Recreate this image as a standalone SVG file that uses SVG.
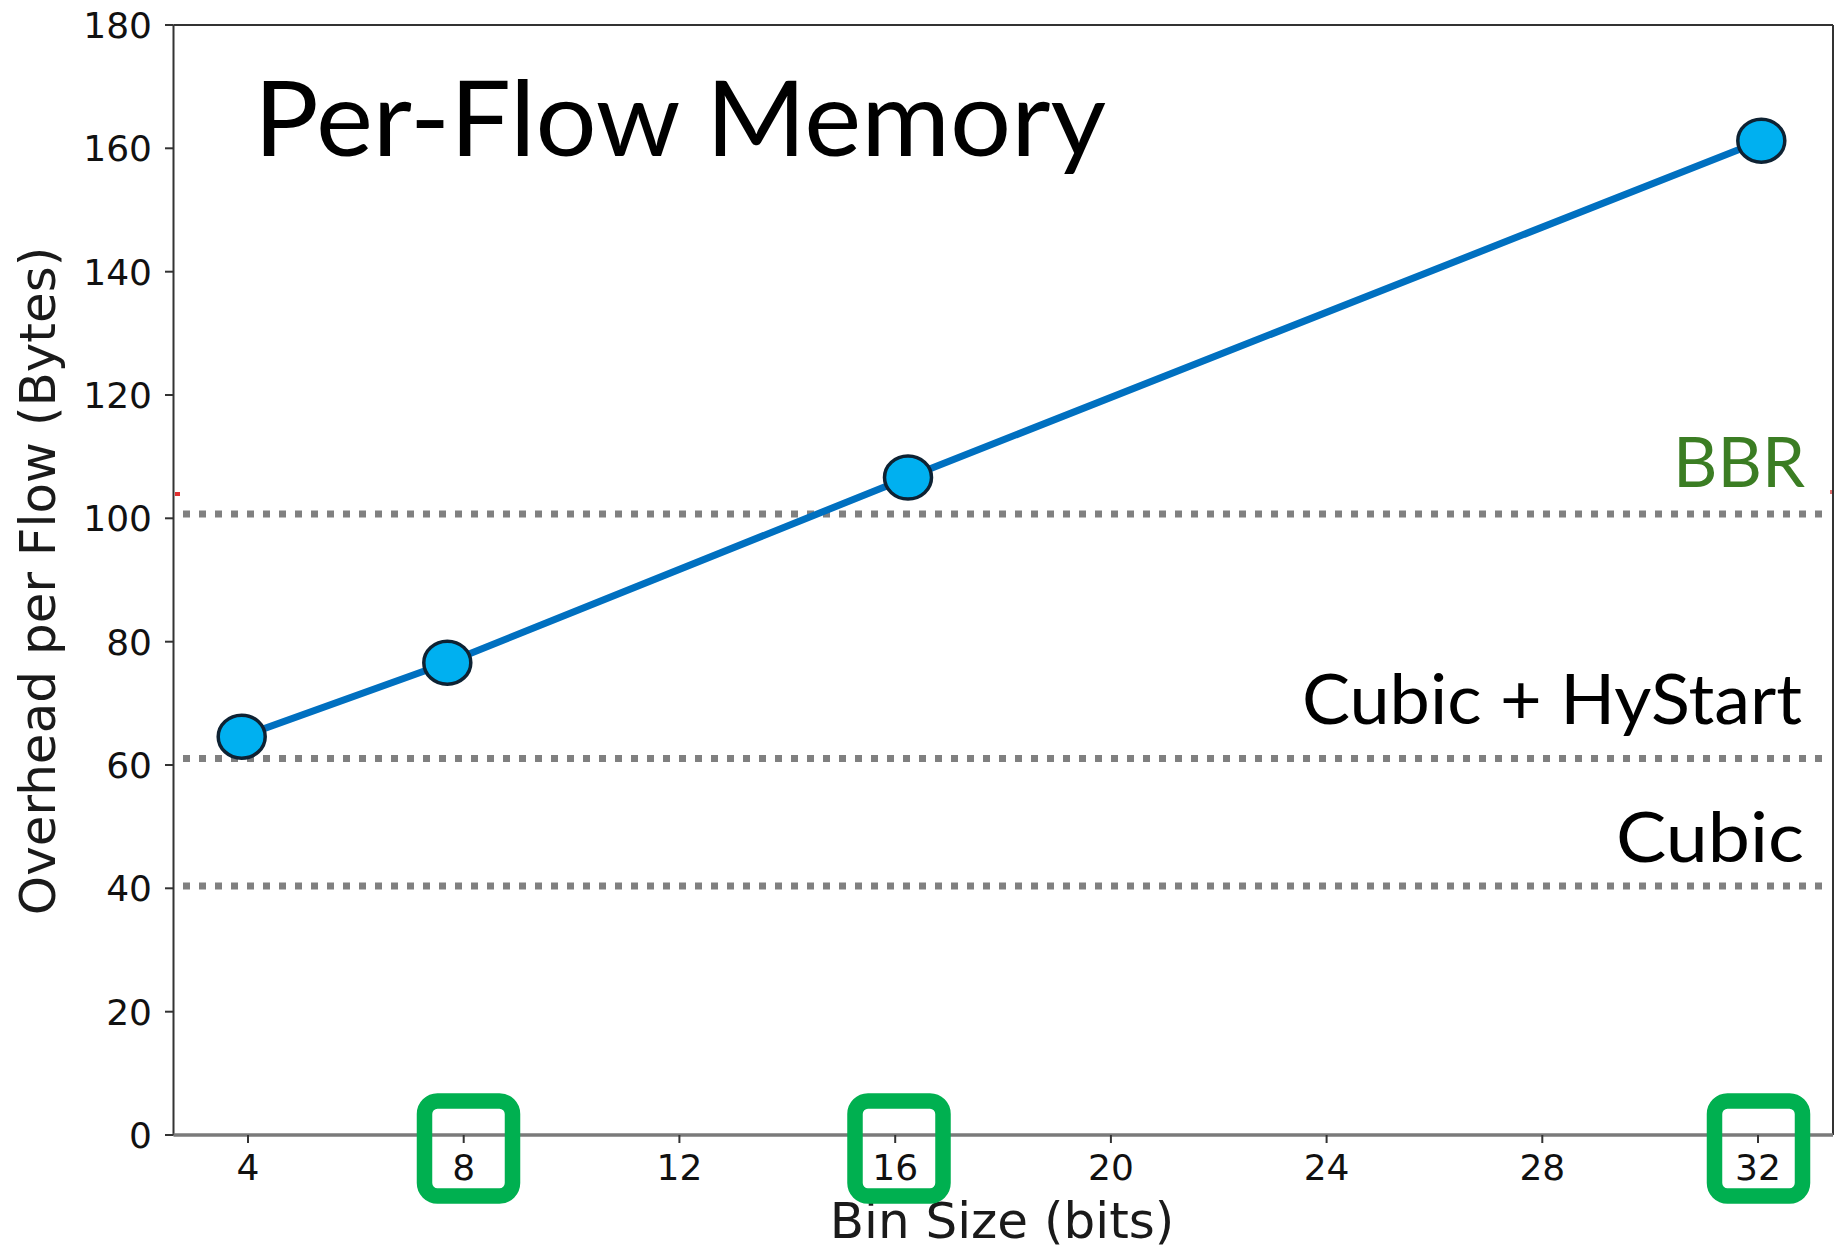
<svg xmlns="http://www.w3.org/2000/svg" width="1844" height="1255" viewBox="0 0 1844 1255">
  <style>
    .tick { stroke: #333333; stroke-width: 2; }
    .spine { stroke: #333333; stroke-width: 2; fill: none; }
    .ticklabel { font-family: "DejaVu Sans", sans-serif; font-size: 36px; fill: #111111; }
    .axislabel { font-family: "DejaVu Sans", sans-serif; font-size: 50px; fill: #1a1a1a; }
    .ref { stroke: #808080; stroke-width: 7; stroke-dasharray: 7 9; fill: none; }
    .reflabel { font-family: Lato, "Open Sans", sans-serif; fill: #000000; text-anchor: end; }
    .pt { fill: #00b0f0; stroke: #0e2233; stroke-width: 3.5; }
    .hl { fill: none; stroke: #00b050; stroke-width: 15.5; }
  </style>

  <rect width="1844" height="1255" fill="#ffffff"/>

  <!-- horizontal reference levels -->
  <g id="reference-lines">
    <line class="ref" x1="183" y1="514" x2="1822" y2="514"/>
    <line class="ref" x1="183" y1="758.5" x2="1822" y2="758.5"/>
    <line class="ref" x1="183" y1="886" x2="1822" y2="886"/>
    <rect x="175" y="492" width="5" height="4" fill="#e03030"/>
    <rect x="1830" y="490" width="3" height="4" fill="#e07070"/>
  </g>

  <!-- plot frame -->
  <g id="axes">
    <line class="spine" x1="173.5" y1="25" x2="1833" y2="25"/>
    <line class="spine" x1="173.5" y1="25" x2="173.5" y2="1135"/>
    <line class="spine" x1="1833" y1="25" x2="1833" y2="1135"/>
    <line x1="173.5" y1="1135" x2="1833" y2="1135" stroke="#7a7a7a" stroke-width="3.5"/>
  </g>

  <!-- y axis ticks and labels -->
  <g id="y-ticks">
    <line class="tick" x1="165" y1="1135" x2="173.5" y2="1135"/>
    <line class="tick" x1="165" y1="1011.7" x2="173.5" y2="1011.7"/>
    <line class="tick" x1="165" y1="888.3" x2="173.5" y2="888.3"/>
    <line class="tick" x1="165" y1="765" x2="173.5" y2="765"/>
    <line class="tick" x1="165" y1="641.7" x2="173.5" y2="641.7"/>
    <line class="tick" x1="165" y1="518.3" x2="173.5" y2="518.3"/>
    <line class="tick" x1="165" y1="395" x2="173.5" y2="395"/>
    <line class="tick" x1="165" y1="271.7" x2="173.5" y2="271.7"/>
    <line class="tick" x1="165" y1="148.3" x2="173.5" y2="148.3"/>
    <line class="tick" x1="165" y1="25" x2="173.5" y2="25"/>
    <g class="ticklabel" text-anchor="end">
      <text x="152" y="1148">0</text>
      <text x="152" y="1024.7">20</text>
      <text x="152" y="901.3">40</text>
      <text x="152" y="778">60</text>
      <text x="152" y="654.7">80</text>
      <text x="152" y="531.3">100</text>
      <text x="152" y="408">120</text>
      <text x="152" y="284.7">140</text>
      <text x="152" y="161.3">160</text>
      <text x="152" y="38">180</text>
    </g>
  </g>

  <!-- x axis ticks and labels -->
  <g id="x-ticks">
    <line class="tick" x1="248" y1="1135" x2="248" y2="1143"/>
    <line class="tick" x1="463.7" y1="1135" x2="463.7" y2="1143"/>
    <line class="tick" x1="679.4" y1="1135" x2="679.4" y2="1143"/>
    <line class="tick" x1="895.2" y1="1135" x2="895.2" y2="1143"/>
    <line class="tick" x1="1110.9" y1="1135" x2="1110.9" y2="1143"/>
    <line class="tick" x1="1326.6" y1="1135" x2="1326.6" y2="1143"/>
    <line class="tick" x1="1542.3" y1="1135" x2="1542.3" y2="1143"/>
    <line class="tick" x1="1758" y1="1135" x2="1758" y2="1143"/>
    <g class="ticklabel" text-anchor="middle">
      <text x="248" y="1180">4</text>
      <text x="463.7" y="1180">8</text>
      <text x="679.4" y="1180">12</text>
      <text x="895.2" y="1180">16</text>
      <text x="1110.9" y="1180">20</text>
      <text x="1326.6" y="1180">24</text>
      <text x="1542.3" y="1180">28</text>
      <text x="1758" y="1180">32</text>
    </g>
  </g>

  <!-- axis titles -->
  <g id="axis-titles">
    <text class="axislabel" x="1002" y="1238" text-anchor="middle">Bin Size (bits)</text>
    <text class="axislabel" text-anchor="middle" transform="translate(55,581) rotate(-90)">Overhead per Flow (Bytes)</text>
  </g>

  <!-- chart title -->
  <g id="title">
    <text x="254" y="156" font-family="Lato, 'Open Sans', sans-serif" font-size="105" fill="#000000" textLength="852" lengthAdjust="spacingAndGlyphs">Per-Flow Memory</text>
  </g>

  <!-- labels for the reference levels -->
  <g id="reference-labels">
    <text class="reflabel" x="1805" y="487" font-size="70" style="fill:#3b7d23" textLength="132" lengthAdjust="spacingAndGlyphs">BBR</text>
    <text class="reflabel" x="1802" y="724" font-size="69" textLength="500" lengthAdjust="spacingAndGlyphs">Cubic + HyStart</text>
    <text class="reflabel" x="1804" y="862" font-size="70" textLength="188" lengthAdjust="spacingAndGlyphs">Cubic</text>
  </g>

  <!-- measured series -->
  <g id="connectors">
    <polyline points="241.7,736.7 447.3,662.7 908,477.5 1761.3,140.7" fill="none" stroke="#0070c0" stroke-width="7"/>
  </g>
  <g id="points">
    <ellipse id="pt-4" class="pt" cx="241.7" cy="736.7" rx="23.5" ry="21.5"/>
    <ellipse id="pt-8" class="pt" cx="447.3" cy="662.7" rx="23.5" ry="21.5"/>
    <ellipse id="pt-16" class="pt" cx="908" cy="477.5" rx="23.5" ry="21.5"/>
    <ellipse id="pt-32" class="pt" cx="1761.3" cy="140.7" rx="23.5" ry="21.5"/>
  </g>

  <!-- highlighted bin sizes -->
  <g id="highlights">
    <rect id="hl-8" class="hl" x="424.5" y="1101" width="88" height="95" rx="13"/>
    <rect id="hl-16" class="hl" x="855" y="1101" width="88" height="95" rx="13"/>
    <rect id="hl-32" class="hl" x="1714.5" y="1101" width="88" height="95" rx="13"/>
  </g>
</svg>
